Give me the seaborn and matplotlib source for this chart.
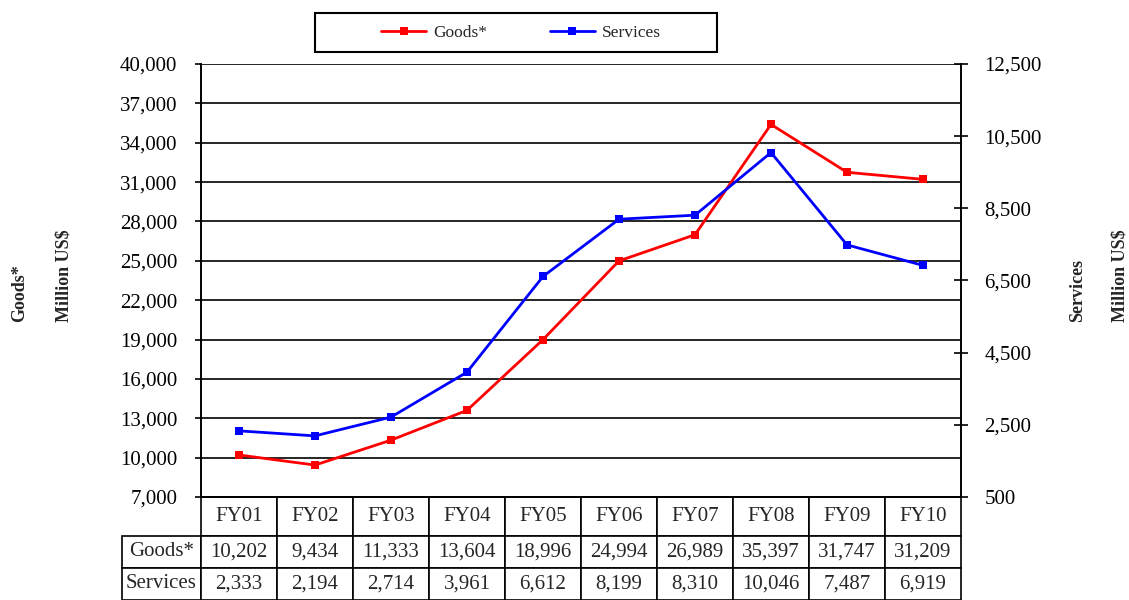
import numpy as np
import pandas as pd
import matplotlib
matplotlib.use("Agg")
import matplotlib.pyplot as plt
from matplotlib.patches import Rectangle
import seaborn as sns

# ==========================================
# data
# ==========================================
years = ["FY01", "FY02", "FY03", "FY04", "FY05", "FY06", "FY07", "FY08", "FY09", "FY10"]
goods = [10202, 9434, 11333, 13604, 18996, 24994, 26989, 35397, 31747, 31209]
services = [2333, 2194, 2714, 3961, 6612, 8199, 8310, 10046, 7487, 6919]
left_ticks = list(range(7000, 40001, 3000))
right_ticks = list(range(500, 12501, 2000))

df = pd.DataFrame({"pos": np.arange(len(years)), "year": years,
                   "Goods*": goods, "Services": services})

sns.set_theme(style="white")
plt.rcParams["font.family"] = ["Liberation Serif", "DejaVu Serif"]

W, H = 1129, 600
fig = plt.figure(figsize=(W / 100, H / 100), dpi=100)
# plot area in pixels: x 201..961, y 64..497
ax = fig.add_axes([201 / W, 1 - 497 / H, 760 / W, 433 / H])
ax2 = ax.twinx()

sns.lineplot(data=df, x="pos", y="Goods*", ax=ax, color="#ff0000", marker="s",
             markersize=6, markeredgewidth=0, linewidth=2, label="Goods*", legend=False)
sns.lineplot(data=df, x="pos", y="Services", ax=ax2, color="#0000ff", marker="s",
             markersize=6, markeredgewidth=0, linewidth=2, label="Services", legend=False)
for a in (ax, ax2):
    if a.get_legend() is not None:
        a.get_legend().remove()

ax.set_xlim(-0.5, len(years) - 0.5)
ax.set_ylim(7000, 40000)
ax2.set_ylim(500, 12500)
ax.set_yticks(left_ticks)
ax2.set_yticks(right_ticks)
ax.set_yticklabels([f"{v:,}" for v in left_ticks], fontsize=15)
ax2.set_yticklabels([f"{v:,}" for v in right_ticks], fontsize=15)
ax.set_xticks([])
ax.set_xlabel("")
ax.set_ylabel("")
ax2.set_ylabel("")

ax.yaxis.grid(True, color="black", linewidth=1.2)
ax.tick_params(axis="y", direction="out", length=4, width=1.2, pad=13, colors="black", left=True)
ax2.tick_params(axis="y", direction="inout", length=10, width=1.2, pad=12, colors="black", right=True)
for a in (ax, ax2):
    a.spines["top"].set_visible(False)
    for s in ["left", "right", "bottom"]:
        a.spines[s].set_color("black")
        a.spines[s].set_linewidth(1.2)
ax.set_zorder(ax2.get_zorder() - 1)
ax2.patch.set_visible(False)

# axis titles (two rotated lines each side)
for xp, txt in [(20, "Goods*"), (64, "Million US$"), (1078, "Services"), (1120, "Million US$")]:
    fig.text(xp / W, 1 - 322 / H, txt, rotation=90, ha="center", va="bottom",
             fontsize=13, fontweight="bold")

# data table below the plot
cell_text = [["Goods*"] + [f"{v:,}" for v in goods],
             ["Services"] + [f"{v:,}" for v in services]]
col_w = [79 / 760] + [76 / 760] * len(years)
tbl = ax.table(cellText=cell_text, colLabels=[""] + years, colWidths=col_w,
               cellLoc="center", bbox=[-79 / 760, -103 / 433, 839 / 760, 103 / 433])
tbl.auto_set_font_size(False)
tbl.set_fontsize(15)
for (r, c), cell in tbl.get_celld().items():
    cell.set_linewidth(1.2)
    cell.set_edgecolor("black")
    cell.set_height(39 if r == 0 else 32)
    if r == 0 and c == 0:
        cell.visible_edges = "open"
    if r > 0 and c == 0:
        cell._loc = "left"
        cell.PAD = 0.02

# legend with its own frame
fig.patches.append(Rectangle((315 / W, 1 - 52 / H), 402 / W, 39 / H, transform=fig.transFigure,
                             fill=False, edgecolor="black", linewidth=1.5))
handles = [ax.lines[0], ax2.lines[0]]
fig.legend(handles, ["Goods*", "Services"], loc="center", bbox_to_anchor=(521 / W, 1 - 32.5 / H),
           ncol=2, frameon=False, handlelength=2.6, columnspacing=3.6, fontsize=12.5,
           handletextpad=0.4)

fig.savefig("out.png", dpi=100)
